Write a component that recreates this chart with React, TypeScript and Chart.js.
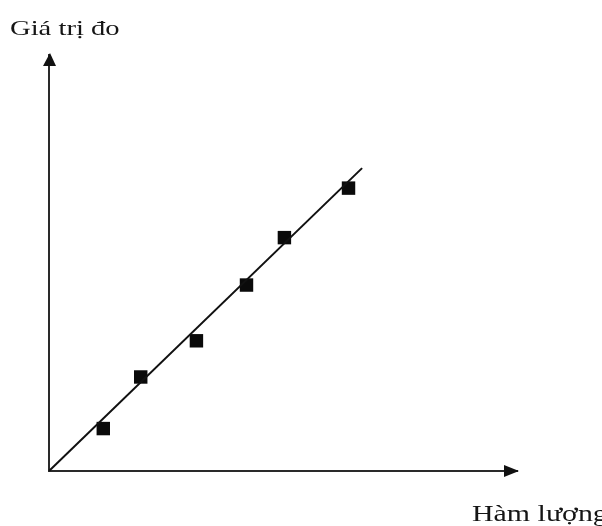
import React, { useEffect, useRef } from "react";
import { Chart, registerables } from "chart.js";

Chart.register(...registerables);

// Measured points (Hàm lượng, Giá trị đo) in arbitrary units
const xValues = [1.16, 1.96, 3.15, 4.22, 5.03, 6.4];
const yValues = [1.02, 2.26, 3.13, 4.47, 5.61, 6.8];
// Calibration line end points
const lineX = [0, 6.69];
const lineY = [0, 7.28];
const yTitle = "Giá trị đo";
const xTitle = "Hàm lượng";
const axisMin = 0;
const axisMax = 10;

const arrowsAndLabels = {
  id: "arrowsAndLabels",
  afterDraw(chart: any) {
    const { ctx, chartArea } = chart;
    const { left, top, right, bottom } = chartArea;
    ctx.save();
    ctx.fillStyle = "#111";
    // y arrow head
    ctx.beginPath();
    ctx.moveTo(left + 1, top - 2);
    ctx.lineTo(left - 6, top + 11);
    ctx.lineTo(left + 7, top + 11);
    ctx.closePath();
    ctx.fill();
    // x arrow head
    ctx.beginPath();
    ctx.moveTo(right + 2, bottom);
    ctx.lineTo(right - 13, bottom - 6);
    ctx.lineTo(right - 13, bottom + 6);
    ctx.closePath();
    ctx.fill();
    // labels (source picture is stretched horizontally)
    ctx.textBaseline = "alphabetic";
    ctx.textAlign = "left";
    ctx.fillStyle = "#151515";
    ctx.save();
    ctx.translate(10, 35);
    ctx.scale(1.3, 1);
    ctx.font = '22px "Liberation Serif", "DejaVu Serif", serif';
    ctx.fillText(yTitle, 0, 0);
    ctx.restore();
    ctx.save();
    ctx.translate(472, 521);
    ctx.scale(1.3, 1);
    ctx.font = '23px "Liberation Serif", "DejaVu Serif", serif';
    ctx.fillText(xTitle, 0, 0);
    ctx.restore();
    ctx.restore();
  },
};

export default function App() {
  const ref = useRef<HTMLCanvasElement | null>(null);
  useEffect(() => {
    if (!ref.current) return;
    const points = xValues.map((x, i) => ({ x, y: yValues[i] }));
    const line = lineX.map((x, i) => ({ x, y: lineY[i] }));
    const chart = new Chart(ref.current, {
      type: "scatter",
      data: {
        datasets: [
          {
            type: "line",
            data: line,
            borderColor: "#111",
            borderWidth: 2,
            pointRadius: 0,
            fill: false,
            clip: false as any,
          },
          {
            data: points,
            pointStyle: "rect",
            pointRadius: 9.5,
            pointHoverRadius: 9.5,
            backgroundColor: "#0a0a0a",
            borderColor: "#0a0a0a",
            borderWidth: 0,
          },
        ],
      },
      options: {
        animation: false,
        responsive: false,
        events: [],
        layout: { padding: { left: 49, top: 55, right: 85, bottom: 55 } },
        plugins: { legend: { display: false }, tooltip: { enabled: false }, title: { display: false } },
        scales: {
          x: {
            type: "linear",
            min: axisMin,
            max: axisMax,
            ticks: { display: false },
            grid: { display: false, drawTicks: false },
            border: { display: true, color: "#2a2a2a", width: 2 },
          },
          y: {
            type: "linear",
            min: axisMin,
            max: axisMax,
            ticks: { display: false },
            grid: { display: false, drawTicks: false },
            border: { display: true, color: "#2a2a2a", width: 2 },
          },
        },
      },
      plugins: [arrowsAndLabels],
    });
    return () => chart.destroy();
  }, []);
  return (
    <div style={{ position: "absolute", left: 0, top: 0, width: 602, height: 526, background: "#fff" }}>
      <canvas ref={ref} width={602} height={526} style={{ display: "block" }} />
    </div>
  );
}
